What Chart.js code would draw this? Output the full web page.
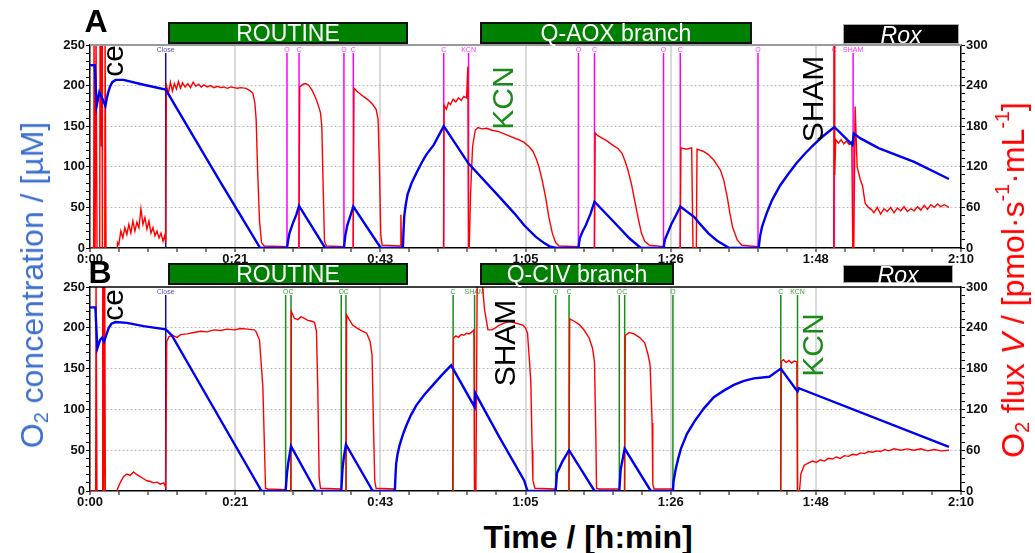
<!DOCTYPE html>
<html>
<head>
<meta charset="utf-8">
<script src="https://cdn.jsdelivr.net/npm/chart.js@4/dist/chart.umd.min.js"></script>
<style>
  body { margin: 0; width: 1035px; height: 553px; position: relative; overflow: hidden; background: #fff;
         font-family: "Liberation Sans", Arial, sans-serif; }
  canvas { position: absolute; left: 0; }
  .bar { position: absolute; box-sizing: border-box; color: #fff; text-align: center; white-space: nowrap; font-size: 23px; }
  .green { background: #008000; border: 2.5px solid #111; }
  .black { background: #000; border: 1px solid #aaa; font-style: italic; }
  .rot { position: absolute; transform: translate(-50%, -50%) rotate(-90deg); white-space: nowrap; line-height: 1; }
  .panel { position: absolute; font-weight: bold; font-size: 32px; line-height: 1; transform: translate(-50%, -50%); }
  sub, sup { font-size: 0.62em; line-height: 0; }
  sub { vertical-align: -0.25em; }
  sup { vertical-align: 0.75em; }
</style>
</head>
<body>
<canvas id="chartA" width="1035" height="268" style="top:0px"></canvas>
<canvas id="chartB" width="1035" height="241" style="top:270px"></canvas>

<div class="panel" style="left:96px; top:21px">A</div>
<div class="panel" style="left:100px; top:272px">B</div>

<div class="bar green" style="left:168px; top:22px; width:240px; height:22px; line-height:18px">ROUTINE</div>
<div class="bar green" style="left:480px; top:22px; width:272px; height:22px; line-height:18px">Q-AOX branch</div>
<div class="bar black" style="left:843px; top:24px; width:116px; height:20px; line-height:20px">Rox</div>

<div class="bar green" style="left:168px; top:263px; width:240px; height:22px; line-height:18px">ROUTINE</div>
<div class="bar green" style="left:480px; top:263px; width:194px; height:22px; line-height:18px">Q-CIV branch</div>
<div class="bar black" style="left:843px; top:265px; width:110px; height:18px; line-height:18px">Rox</div>

<div class="rot" style="left:113px; top:61px; font-size:30px; color:#000">ce</div>
<div class="rot" style="left:113px; top:305px; font-size:30px; color:#000">ce</div>
<div class="rot" style="left:503px; top:98px; font-size:30px; color:#1a8a1a">KCN</div>
<div class="rot" style="left:813px; top:99px; font-size:30px; color:#000">SHAM</div>
<div class="rot" style="left:505px; top:343px; font-size:30px; color:#000">SHAM</div>
<div class="rot" style="left:813px; top:345px; font-size:30px; color:#1a8a1a">KCN</div>

<div class="rot" style="left:32px; top:285px; font-size:32px; color:#3d6fce">O<sub>2</sub> concentration / [µM]</div>
<div class="rot" style="left:1013px; top:280px; font-size:32px; color:#ff0000">O<sub>2</sub> flux <i>V</i> / [pmol·s<sup>-1</sup>·mL<sup>-1</sup>]</div>
<div style="position:absolute; left:588px; top:537px; transform:translate(-50%,-50%); font-size:32px; font-weight:bold; white-space:nowrap; line-height:1">Time / [h:min]</div>

<script>
// time axis in minutes, 0 .. 130
const xTickLabels = ['0:00', '0:21', '0:43', '1:05', '1:26', '1:48', '2:10'];

// panel A, O2 concentration [µM] (left axis)
const aO2 = [[0,225],[0.7,225],[1.0,175],[1.4,192],[1.9,183],[2.3,175],[2.5,184],[2.7,191],[3.0,199],[3.3,204],[3.8,207],
  [5,207],[8,201],[11.3,195],[19.4,82],[22.4,41],[25.4,0],[29.4,0],[29.6,11],[29.8,19],[30.3,31],[30.8,41],[31.2,52],
  [35.1,0],[37.9,0],[38.1,15],[38.4,28],[38.8,38],[39.3,51],[43.4,0],[46.7,0],[46.8,22],[46.9,39],[47.1,52],[47.4,66],
  [48.0,80],[48.7,92],[49.5,105],[50.2,115],[51.3,127],[52.8,150],[56.5,104],[61.1,63],[63.3,43],[64.8,28],[66.5,14],
  [67.8,6],[68.6,2],[69.6,0],[72.9,0],[73.1,12],[73.5,20],[74.0,28],[74.7,42],[75.3,57],[78.2,32],[80.5,12],[82.2,0],
  [85.6,0],[85.8,10],[86.3,20],[86.8,30],[87.5,41],[88.1,51],[90.2,38],[91.0,30],[92.3,18],[93.6,9],[95.4,0],[99.8,0],
  [100.0,14],[100.3,26],[101.0,43],[101.8,59],[103.0,77],[104.3,92],[105.5,105],[106.8,117],[108.0,127],[109.3,137],
  [111.1,149],[113.8,127],[114.0,141],[115.0,135],[117.7,123],[123.0,106],[128.2,85]];

// panel A, O2 flux [pmol/(s*mL)] (right axis)
const aFlux = [[0,0],[0.55,0],[0.6,320],[0.7,320],[0.75,-20],[0.85,-20],[0.9,320],[1.0,320],[1.05,0],[1.45,0],[1.5,320],
  [1.55,190],[1.6,320],[1.7,150],[1.8,320],[1.85,-20],[2.2,-20],[2.25,320],[2.35,320],[2.4,-30],[4.0,-30],[4.1,8],[4.3,5],
  [4.6,25],[4.9,15],[5.2,30],[5.5,20],[5.8,35],[6.1,22],[6.4,40],[6.7,25],[7.0,38],[7.3,30],[7.6,58],[7.9,35],[8.2,45],
  [8.5,28],[8.8,40],[9.1,22],[9.4,30],[9.7,18],[10.0,25],[10.3,15],[10.6,22],[10.9,10],[11.2,20],[11.3,8],[11.4,240],
  [11.7,228],[12.0,245],[12.3,232],[12.6,243],[12.9,235],[13.2,246],[13.5,236],[13.8,244],[14.2,238],[14.6,243],
  [15.0,237],[15.4,245],[15.8,239],[16.2,242],[16.6,238],[17.0,241],[17.5,238],[18,240],[18.5,237],[19,239],[19.5,237],
  [20,238],[20.5,236],[21,238],[21.5,237],[22,236],[22.5,237],[23.3,236],[23.8,233],[24.3,229],[24.6,215],[24.8,190],
  [25.0,120],[25.3,40],[25.6,8],[26,3],[29.35,2],[29.45,-50],[31.15,-50],[31.3,238],[31.8,242],[32.2,243],[32.6,241],
  [33.1,234],[33.6,224],[34.0,213],[34.4,200],[34.6,180],[34.8,90],[35.0,10],[35.3,3],[37.8,2],[37.9,-50],[39.25,-50],
  [39.4,236],[39.8,232],[40.3,228],[40.8,224],[41.5,219],[42.2,212],[42.7,205],[43.0,190],[43.2,120],[43.4,20],[43.6,4],
  [46.3,3],[46.4,49],[46.5,3],[46.7,-50],[52.75,-50],[52.85,211],[53.2,205],[53.5,215],[53.8,212],[54.2,220],[54.6,216],
  [55.0,222],[55.4,218],[55.8,224],[56.2,222],[56.4,268],[56.5,0],[56.6,0],[56.8,80],[57.1,150],[57.5,174],[57.9,178],
  [58.5,176],[59.2,177],[60,174],[61,172],[62,168],[63,164],[64,160],[64.8,156],[65.5,150],[66.1,143],[66.6,132],
  [67.0,120],[67.5,100],[68.0,75],[68.5,45],[69.0,22],[69.5,8],[70,3],[72.8,2],[72.9,-50],[75.25,-50],[75.4,170],
  [75.8,166],[76.5,162],[77.2,158],[78.0,152],[78.8,147],[79.4,140],[79.8,130],[80.3,115],[80.8,95],[81.3,70],[81.8,45],
  [82.3,22],[82.8,10],[83.5,4],[85.5,2],[85.6,-50],[88.05,-50],[88.2,148],[89.0,146],[89.8,148],[90.0,0],[90.5,0],
  [90.6,146],[91.5,143],[92.3,138],[93.1,130],[94.1,115],[94.6,100],[95.1,76],[95.5,52],[95.9,31],[96.6,12],[97.3,4],
  [99.6,2],[99.7,-50],[111.0,-50],[111.05,300],[111.15,108],[111.3,160],[111.7,155],[112.1,160],[112.5,154],[112.9,158],
  [113.3,153],[113.7,157],[113.85,0],[114.0,0],[114.2,209],[114.5,120],[115.0,100],[115.3,92],[115.7,66],[116.2,60],
  [116.7,56],[117,52],[117.5,60],[118,50],[118.5,58],[119,54],[119.5,60],[120,52],[120.5,59],[121,55],
  [121.5,61],[122,54],[122.5,58],[123,55],[123.5,61],[124,56],[124.5,63],[125,57],[125.5,64],[126,60],[126.5,65],
  [127,61],[127.5,64],[128.2,60]];

// panel B, O2 concentration
const bO2 = [[0,225],[0.8,225],[1.1,175],[1.5,185],[1.8,188],[2.1,183],[2.5,193],[2.8,200],[3.2,205],[3.8,207],[5.5,206],
  [8,202],[11.3,198],[12.2,191],[25.6,0],[29.2,0],[29.4,22],[29.6,35],[30.0,55],[33.7,0],[37.5,0],
  [37.7,28],[37.9,42],[38.2,57],[42.2,0],[45.5,0],[45.6,20],[45.7,34],[45.9,45],[46.2,56],[46.7,69],[47.2,80],[47.9,93],
  [48.7,105],[49.9,118],[51.2,130],[52.5,142],[53.9,154],[57.4,103],[57.5,120],[61.1,66],[64.8,13],[65.3,0],[69.5,0],
  [69.7,22],[70.5,36],[71.5,50],[75.3,0],[79.0,0],[79.2,26],[79.8,52],[83.7,0],[87.0,0],[87.1,12],[87.4,26],[87.8,40],
  [88.2,52],[89.1,70],[90.2,85],[91.6,101],[93.1,115],[94.6,123],[96.1,130],[97.6,135],[99.1,138],[101.4,140],
  [103.1,150],[105.6,122],[105.8,126],[128.2,54]];

// panel B, O2 flux
const bFlux = [[0,0],[0.85,0],[0.9,320],[1.0,320],[1.05,-20],[1.85,-20],[1.9,320],[2.0,320],[2.05,-20],[2.2,320],
  [2.3,-30],[4.0,-30],[4.1,3],[4.5,12],[5.0,21],[5.5,25],[6.0,23],[6.5,28],[7.0,24],[7.5,21],[8.0,18],[8.5,15],[9.0,14],
  [9.5,12],[10.0,13],[10.5,10],[11.0,12],[11.2,8],[11.3,5],[11.45,220],[11.8,227],[12.3,229],[13,226],[13.5,230],
  [14.5,231],[15.5,233],[16.5,235],[17.5,234],[18.5,237],[19.5,236],[20.5,238],[21.5,237],[22.5,239],[23.5,238],
  [24.5,237],[24.8,234],[25.3,222],[25.8,153],[26.2,4],[26.5,3],[29.15,2],[29.2,-50],[29.95,-50],[30.05,264],
  [30.5,254],[31.0,252],[31.5,256],[32.0,254],[32.5,251],[33.0,250],[33.5,248],[33.8,235],[34.0,150],[34.2,20],[34.4,4],
  [37.4,3],[37.5,-50],[38.2,-50],[38.3,259],[38.7,252],[39.2,244],[39.8,240],[40.5,236],[41.3,232],[41.8,220],[42.1,200],
  [42.3,100],[42.5,15],[42.7,4],[45.4,3],[45.5,-50],[54.1,-50],[54.25,225],[54.6,228],[55.0,226],[55.4,230],[55.8,229],
  [56.2,232],[56.6,231],[57.0,234],[57.3,237],[57.4,0],[57.6,0],[57.8,330],[58.4,320],[58.9,266],[59.4,237],[60.0,237],
  [60.5,240],[61.1,244],[61.8,247],[62.6,249],[63.5,247],[64.6,244],[65.0,240],[65.3,232],[65.6,190],[65.8,159],
  [66.0,60],[66.1,16],[66.4,4],[69.4,3],[69.5,-50],[71.45,-50],[71.6,253],[72.2,250],[73.0,245],[73.8,236],[74.5,225],
  [75.0,210],[75.3,190],[75.5,80],[75.6,4],[76,3],[78.9,3],[79.0,-50],[79.75,-50],[79.9,229],[80.5,233],[81.2,231],
  [82.0,226],[82.8,218],[83.3,200],[83.6,185],[83.9,100],[84.0,10],[84.2,3],[86.9,3],[87.0,-50],[103.05,-50],[103.2,191],
  [103.5,193],[103.9,189],[104.3,192],[104.7,188],[105.1,191],[105.5,190],[105.6,0],[105.9,0],[106.1,25],[106.6,38],
  [107.2,41],[107.8,44],[108.4,42],[109,46],[109.6,44],[110.2,48],[110.8,47],[111.4,50],[112,48],[112.6,52],[113.2,51],
  [113.8,54],[114.4,53],[115,56],[115.6,55],[116.2,58],[116.8,57],[117.4,59],[118,58],[118.6,61],[119.2,59],[120,62],
  [121,60],[122,62],[123,60],[124,62],[125,59],[126,61],[127,59],[128.2,60]];

// event marks
const eventsALabels = ['Close', 'O', 'C', 'O', 'C', 'C', 'KCN', 'O', 'C', 'O', 'C', 'O', 'C', 'SHAM'];
const eventsATimes = [11.3, 29.4, 31.2, 37.9, 39.3, 52.8, 56.5, 72.9, 75.3, 85.6, 88.1, 99.7, 111.1, 113.9];
const eventsBLabels = ['Close', 'O', 'C', 'O', 'C', 'C', 'SHAM', 'O', 'C', 'O', 'C', 'O', 'C', 'KCN'];
const eventsBTimes = [11.3, 29.2, 30.0, 37.5, 38.2, 54.2, 57.4, 69.5, 71.5, 79.0, 79.8, 87.0, 103.1, 105.6];

Chart.defaults.font.family = '"Liberation Sans", Arial, sans-serif';

const eventPlugin = {
  id: 'events',
  beforeDatasetsDraw(chart, args, opts) {
    const { ctx, chartArea: { top, bottom }, scales: { x } } = chart;
    ctx.save();
    ctx.font = '7px "Liberation Sans", Arial';
    ctx.textAlign = 'center';
    ctx.textBaseline = 'middle';
    opts.times.forEach((t, i) => {
      const px = x.getPixelForValue(t);
      const isClose = opts.labels[i] === 'Close';
      ctx.strokeStyle = isClose ? '#10109a' : opts.color;
      ctx.lineWidth = 1.5;
      ctx.beginPath();
      ctx.moveTo(px, top + 8);
      ctx.lineTo(px, bottom);
      ctx.stroke();
      ctx.fillStyle = isClose ? '#5555aa' : opts.textColor;
      ctx.fillText(opts.labels[i], px, top + 5);
    });
    ctx.restore();
  },
  afterDraw(chart, args, opts) {
    const { ctx, chartArea: { top, left, right } } = chart;
    ctx.save();
    ctx.strokeStyle = opts.topColor;
    ctx.lineWidth = opts.topWidth;
    ctx.beginPath();
    ctx.moveTo(left, top);
    ctx.lineTo(right, top);
    ctx.stroke();
    ctx.restore();
  }
};

const tickFont = { size: 13, weight: 'bold' };

function makeChart(id, o2, flux, evLabels, evTimes, evColor, evText, topColor, topWidth, padTop) {
  new Chart(document.getElementById(id), {
    type: 'line',
    data: {
      datasets: [
        {
          data: o2.map(([x, y]) => ({ x, y })),
          yAxisID: 'yL',
          borderColor: '#0000f0',
          borderWidth: 2.4,
          pointRadius: 0,
          tension: 0,
          order: 1
        },
        {
          data: flux.map(([x, y]) => ({ x, y })),
          yAxisID: 'yR',
          borderColor: '#ff0000',
          borderWidth: 1.4,
          pointRadius: 0,
          tension: 0,
          clip: 0,
          order: 2
        }
      ]
    },
    options: {
      responsive: false,
      animation: false,
      layout: { padding: { top: padTop, bottom: 0, left: 0, right: 0 } },
      plugins: {
        legend: { display: false },
        tooltip: { enabled: false },
        events: { labels: evLabels, times: evTimes, color: evColor, textColor: evText, topColor, topWidth }
      },
      scales: {
        x: {
          type: 'linear',
          min: 0,
          max: 130,
          afterBuildTicks: (scale) => {
            scale.ticks = Array.from({ length: 31 }, (_, i) => ({ value: i * 130 / 30 }));
          },
          afterFit: (scale) => { scale.height = 20; },
          ticks: {
            autoSkip: false,
            maxRotation: 0,
            padding: 0,
            color: '#111',
            font: tickFont,
            callback: (v, i) => (i % 5 === 0 ? xTickLabels[i / 5] : '')
          },
          grid: {
            color: (ctx) => (ctx.index % 5 === 0 && ctx.index > 0 && ctx.index < 30 ? '#dadada' : 'rgba(0,0,0,0)'),
            lineWidth: 2,
            tickColor: '#000',
            tickWidth: 1,
            tickLength: 4
          },
          border: { color: '#000', width: 1.5 }
        },
        yL: {
          position: 'left',
          min: 0,
          max: 250,
          afterBuildTicks: (scale) => {
            scale.ticks = Array.from({ length: 26 }, (_, i) => ({ value: i * 10 }));
          },
          afterFit: (scale) => { scale.width = 90; },
          ticks: {
            autoSkip: false,
            padding: 1,
            color: '#111',
            font: tickFont,
            callback: (v) => (v % 50 === 0 ? String(v) : '')
          },
          grid: {
            color: (ctx) => (ctx.tick && ctx.tick.value % 50 === 0 && ctx.tick.value > 0 && ctx.tick.value < 250 ? '#bdbdbd' : 'rgba(0,0,0,0)'),
            lineWidth: 1,
            tickColor: '#000',
            tickLength: 4
          },
          border: { color: '#000', width: 1.5, dash: [2, 2] }
        },
        yR: {
          position: 'right',
          min: 0,
          max: 300,
          afterBuildTicks: (scale) => {
            scale.ticks = Array.from({ length: 26 }, (_, i) => ({ value: i * 12 }));
          },
          afterFit: (scale) => { scale.width = 74; },
          ticks: {
            autoSkip: false,
            padding: 1,
            color: '#111',
            font: tickFont,
            callback: (v) => (v % 60 === 0 ? String(v) : '')
          },
          grid: { drawOnChartArea: false, tickColor: '#000', tickLength: 4 },
          border: { color: '#000', width: 1.5 }
        }
      }
    },
    plugins: [eventPlugin]
  });
}

makeChart('chartA', aO2, aFlux, eventsALabels, eventsATimes, '#ff00ff', '#ff33ff', '#999', 2, 45);
makeChart('chartB', bO2, bFlux, eventsBLabels, eventsBTimes, '#1a8c1a', '#3aa83a', '#000', 1.5, 17);
</script>
</body>
</html>
